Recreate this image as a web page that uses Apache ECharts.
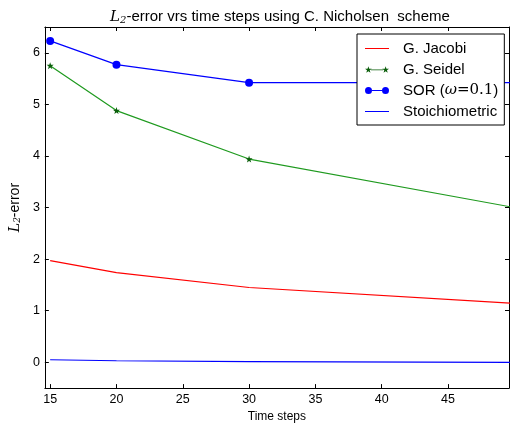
<!DOCTYPE html>
<html><head><meta charset="utf-8">
<script src="https://cdn.jsdelivr.net/npm/echarts@6/dist/echarts.min.js"></script>
<style>html,body{margin:0;padding:0;background:#fff}#c{width:510px;height:428px}</style>
</head><body><div id="c"></div>
<script>
const timeSteps = [15, 20, 30, 50];
const jacobi = [1.97, 1.74, 1.45, 1.144];
const seidel = [5.75, 4.88, 3.94, 3.0];
const sor = [6.23, 5.77, 5.42, 5.42];
const stoich = [0.05, 0.03, 0.015, 0.0];
const xTicks = [15, 20, 25, 30, 35, 40, 45];
const yTicks = [0, 1, 2, 3, 4, 5, 6];

function starPts(cx, cy, R, r) {
  let s = '';
  for (let i = 0; i < 10; i++) {
    const a = -Math.PI / 2 + i * Math.PI / 5;
    const rad = i % 2 ? r : R;
    s += (i ? 'L' : 'M') + (cx + rad * Math.cos(a)).toFixed(2) + ',' + (cy + rad * Math.sin(a)).toFixed(2);
  }
  return s + 'Z';
}
const starSym = 'path://' + starPts(5, 5, 5, 2);
const lineIcon = 'path://M0,0H24V1H0Z';
const sorIcon = 'path://M0,3.5A3.5,3.5 0 1,1 7,3.5A3.5,3.5 0 1,1 0,3.5Z M7,3H17V4H7Z M17,3.5A3.5,3.5 0 1,1 24,3.5A3.5,3.5 0 1,1 17,3.5Z';
const seidelIcon = 'path://' + starPts(3.5, 3.5, 3.5, 1.4) + ' M6,3.1H18V3.9H6Z ' + starPts(20.5, 3.5, 3.5, 1.4);

const font = 'Liberation Sans, Arial, sans-serif';
const chart = echarts.init(document.getElementById('c'));
const pair = a => timeSteps.map((t, i) => [t, a[i]]);
const axisCommon = {
  axisLine: { show: true, onZero: false, lineStyle: { color: '#000', width: 1 } },
  splitLine: { show: false }
};
chart.setOption({
  animation: false,
  title: {
    text: '{i|L}{s|2}{n|-error vrs time steps using C. Nicholsen  scheme}',
    left: 275, textAlign: 'center', top: 4,
    textStyle: {
      fontWeight: 'normal',
      rich: {
        i: { fontFamily: 'DejaVu Serif, serif', fontStyle: 'italic', fontSize: 15, color: '#000' },
        s: { fontFamily: 'DejaVu Serif, serif', fontStyle: 'italic', fontSize: 10, color: '#000', verticalAlign: 'bottom', padding: [6, 0, 0, 0] },
        n: { fontFamily: font, fontSize: 15, color: '#000' }
      }
    }
  },
  grid: { left: 41, right: 1, top: 27, bottom: 36 },
  legend: {
    orient: 'vertical', left: 357, top: 34,
    padding: [7, 6, 6, 8],
    borderColor: '#000', borderWidth: 1, backgroundColor: '#fff',
    itemWidth: 24, itemHeight: 14, itemGap: 6, symbolKeepAspect: true,
    textStyle: { fontFamily: font, fontSize: 15, color: '#000', padding: [0, 0, 0, 9],
      rich: {
        n: { fontFamily: font, fontSize: 15, color: '#000' },
        m: { fontFamily: 'DejaVu Serif, serif', fontStyle: 'italic', fontSize: 15, color: '#000' },
        r: { fontFamily: 'DejaVu Serif, serif', fontSize: 15, color: '#000' }
      }
    },
    formatter: name => name.startsWith('SOR') ? '{n|SOR (}{m|ω}{r|=0.1}{n|)}' : '{n|' + name + '}',
    data: [
      { name: 'G. Jacobi', icon: lineIcon },
      { name: 'G. Seidel', icon: seidelIcon },
      { name: 'SOR (ω=0.1)', icon: sorIcon },
      { name: 'Stoichiometric', icon: lineIcon }
    ]
  },
  xAxis: [
    Object.assign({
      type: 'value', min: 14.6, max: 49.6, position: 'bottom',
      name: 'Time steps', nameLocation: 'middle', nameGap: 22,
      nameTextStyle: { fontFamily: font, fontSize: 12, color: '#000' },
      axisTick: { show: true, inside: true, length: 4, customValues: xTicks, lineStyle: { color: '#000' } },
      axisLabel: { show: true, customValues: xTicks, margin: 5, fontFamily: font, fontSize: 12.5, color: '#000' }
    }, axisCommon),
    Object.assign({
      type: 'value', min: 14.6, max: 49.6, position: 'top',
      axisTick: { show: true, inside: true, length: 4, customValues: xTicks, lineStyle: { color: '#000' } },
      axisLabel: { show: false }
    }, axisCommon)
  ],
  yAxis: [
    Object.assign({
      type: 'value', min: -0.5, max: 6.5, position: 'left',
      name: '{i|L}{s|2}{n|-error}', nameLocation: 'middle', nameGap: 20, nameRotate: 90,
      nameTextStyle: {
        rich: {
          i: { fontFamily: 'DejaVu Serif, serif', fontStyle: 'italic', fontSize: 14, color: '#000' },
          s: { fontFamily: 'DejaVu Serif, serif', fontStyle: 'italic', fontSize: 9, color: '#000', verticalAlign: 'bottom', padding: [5, 0, 0, 0] },
          n: { fontFamily: font, fontSize: 14, color: '#000' }
        }
      },
      axisTick: { show: true, inside: true, length: 4, customValues: yTicks, lineStyle: { color: '#000' } },
      axisLabel: { show: true, customValues: yTicks, margin: 5, fontFamily: font, fontSize: 12.5, color: '#000' }
    }, axisCommon),
    Object.assign({
      type: 'value', min: -0.5, max: 6.5, position: 'right',
      axisTick: { show: true, inside: true, length: 4, customValues: yTicks, lineStyle: { color: '#000' } },
      axisLabel: { show: false }
    }, axisCommon)
  ],
  series: [
    { name: 'G. Jacobi', type: 'line', data: pair(jacobi), showSymbol: false, symbol: 'none',
      itemStyle: { color: '#ff0000' }, lineStyle: { color: '#ff0000', width: 1.2 }, clip: true },
    { name: 'G. Seidel', type: 'line', data: pair(seidel), symbol: starSym, symbolSize: 7,
      itemStyle: { color: '#0b5e0b' }, lineStyle: { color: '#1f9a1f', width: 1.2 }, clip: true },
    { name: 'SOR (ω=0.1)', type: 'line', data: pair(sor), symbol: 'circle', symbolSize: 8,
      itemStyle: { color: '#0000ff' }, lineStyle: { color: '#0000ff', width: 1.2 }, clip: true },
    { name: 'Stoichiometric', type: 'line', data: pair(stoich), showSymbol: false, symbol: 'none',
      itemStyle: { color: '#0000ff' }, lineStyle: { color: '#0000ff', width: 1.2 }, clip: true }
  ]
});
</script></body></html>
